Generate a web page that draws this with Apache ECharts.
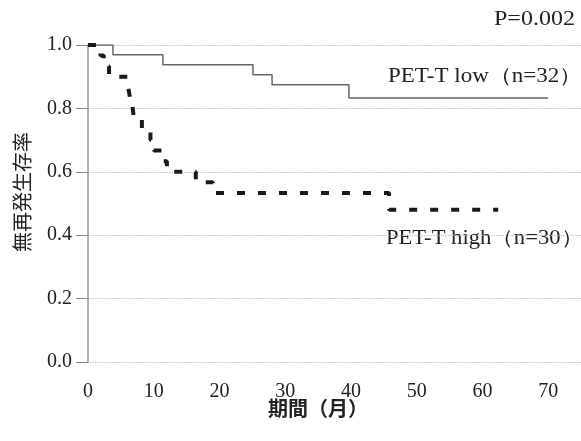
<!DOCTYPE html>
<html>
<head>
<meta charset="utf-8">
<script src="https://cdn.jsdelivr.net/npm/echarts@6/dist/echarts.min.js"></script>
<style>
  html, body { margin: 0; padding: 0; background: #fff; }
  #chart { width: 581px; height: 441px; }
</style>
</head>
<body>
<div id="chart"></div>
<script>
// Kaplan-Meier steps (month, survival after the drop)
const lowMonths = [0, 3.8, 11.4, 25.1, 28, 39.7, 70]
const lowValues = [1, 0.969, 0.938, 0.906, 0.875, 0.833, 0.833]

const highMonths = [0, 1.9, 2.4, 3.2, 6.1, 6.4, 6.8, 7.0, 8.2, 9.5, 10.0, 11.5, 12.0, 16.4, 19.0, 45.8, 62.4]
const highValues = [1, 0.967, 0.933, 0.9, 0.867, 0.833, 0.8, 0.767, 0.733, 0.7, 0.667, 0.633, 0.6, 0.567, 0.533, 0.48, 0.48]

const xTicks = [0, 10, 20, 30, 40, 50, 60, 70]
const yTicks = [0, 0.2, 0.4, 0.6, 0.8, 1.0]

const pText = 'P=0.002'
const lowLabel = 'PET-T low（n=32）'
const highLabel = 'PET-T high（n=30）'
const yName = '無再発生存率'
const xName = '期間（月）'

const serif = '"Liberation Serif", "DejaVu Serif", serif'
const cjk = '"Noto Sans CJK JP", sans-serif'

const chart = echarts.init(document.getElementById('chart'))

chart.setOption({
  animation: false,
  grid: {
    left: 88,
    right: 0,
    top: 45,
    bottom: 79,
    containLabel: false,
    outerBoundsMode: 'none'
  },
  xAxis: {
    type: 'value',
    min: 0,
    max: 75,
    interval: 10,
    axisLine: { show: false },
    axisTick: { show: false },
    splitLine: { show: false },
    axisLabel: {
      color: '#222',
      fontFamily: serif,
      fontSize: 20,
      margin: 20,
      showMaxLabel: false,
      formatter: v => (xTicks.indexOf(v) >= 0 ? String(v) : '')
    }
  },
  yAxis: {
    type: 'value',
    min: 0,
    max: 1,
    interval: 0.2,
    axisLine: {
      show: true,
      lineStyle: { color: '#999', width: 1.5 }
    },
    axisTick: {
      show: true,
      length: 12,
      lineStyle: { color: '#888', width: 1 }
    },
    splitLine: {
      show: true,
      lineStyle: { color: '#bbb', type: 'dotted', width: 1.2 }
    },
    axisLabel: {
      color: '#222',
      fontFamily: serif,
      fontSize: 20,
      margin: 16,
      formatter: v => (yTicks.some(t => Math.abs(t - v) < 1e-6) ? v.toFixed(1) : '')
    }
  },
  graphic: [
    {
      type: 'text',
      x: 494,
      y: 10,
      scaleX: 1.2,
      style: { text: pText, font: '20px ' + serif, fill: '#222' }
    },
    {
      type: 'text',
      x: 388,
      y: 67,
      scaleX: 1.15,
      style: { text: lowLabel, font: '20px ' + serif, fill: '#222' }
    },
    {
      type: 'text',
      x: 386,
      y: 229,
      scaleX: 1.13,
      style: { text: highLabel, font: '20px ' + serif, fill: '#222' }
    },
    {
      type: 'text',
      x: 12,
      y: 252,
      rotation: Math.PI / 2,
      style: { text: yName, font: '20px ' + cjk, fill: '#222' }
    },
    {
      type: 'text',
      x: 268,
      y: 398,
      style: { text: xName, font: 'bold 20px ' + cjk, fill: '#222' }
    }
  ],
  series: [
    {
      name: 'low',
      type: 'line',
      step: 'end',
      showSymbol: false,
      data: lowMonths.map((m, i) => [m, lowValues[i]]),
      lineStyle: { color: '#666', width: 1.5 }
    },
    {
      name: 'high',
      type: 'line',
      step: 'end',
      showSymbol: false,
      data: highMonths.map((m, i) => [m, highValues[i]]),
      lineStyle: { color: '#1a1a1a', width: 4, type: [8, 13] }
    }
  ]
})
</script>
</body>
</html>
